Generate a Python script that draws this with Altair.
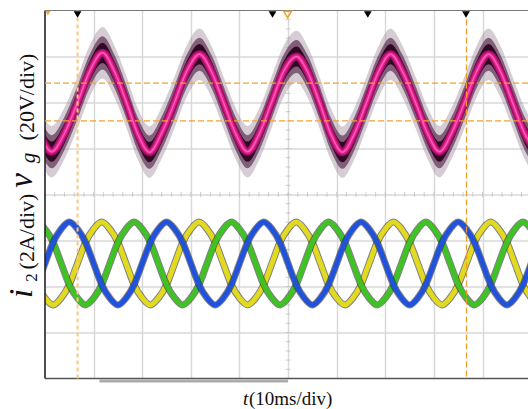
import altair as alt
import pandas as pd

# ---------------- data ----------------
# grid voltage v_g (divisions, 20 V/div), centre trace
vg_t = [-8.54, -6.07, -3.60, -1.13, 1.34, 4.01, 6.69, 9.15, 11.83, 14.30, 16.77, 19.03,
        21.50, 23.97, 26.64, 29.11, 31.78, 34.25, 36.72, 39.19, 41.66, 44.13, 46.59, 49.06,
        51.74, 54.00, 56.47, 58.73, 61.20, 63.67, 66.14, 68.61, 71.08, 73.55, 76.22, 78.69,
        81.15, 83.62, 86.29, 88.76, 91.23, 93.70, 96.17, 98.64, 101.11]
vg_v = [7.05, 6.67, 6.00, 5.33, 4.93, 5.33, 6.00, 6.67, 7.08, 6.67, 6.00, 5.33,
        4.92, 5.33, 6.00, 6.67, 7.05, 6.67, 6.00, 5.33, 4.93, 5.33, 6.00, 6.67,
        7.00, 6.67, 6.00, 5.33, 4.92, 5.33, 6.00, 6.67, 7.05, 6.67, 6.00, 5.33,
        4.93, 5.33, 6.00, 6.67, 7.05, 6.67, 6.00, 5.33, 4.93]

# grid currents i_2 (divisions, 2 A/div)
i_t = [-5.0, -3.33, -1.67, 0.0, 1.67, 3.33, 5.0, 6.67, 8.33, 10.0, 11.67, 13.33,
       15.0, 16.67, 18.33, 20.0, 21.67, 23.33, 25.0, 26.67, 28.33, 30.0, 31.67, 33.33,
       35.0, 36.67, 38.33, 40.0, 41.67, 43.33, 45.0, 46.67, 48.33, 50.0, 51.67, 53.33,
       55.0, 56.67, 58.33, 60.0, 61.67, 63.33, 65.0, 66.67, 68.33, 70.0, 71.67, 73.33,
       75.0, 76.67, 78.33, 80.0, 81.67, 83.33, 85.0, 86.67, 88.33, 90.0, 91.67, 93.33,
       95.0, 96.67, 98.33, 100.0, 101.67, 103.33]
i_blue = [1.60, 1.75, 2.04, 2.50, 2.96, 3.25, 3.40, 3.25, 2.96, 2.50, 2.04, 1.75,
          1.60, 1.75, 2.04, 2.50, 2.96, 3.25, 3.40, 3.25, 2.96, 2.50, 2.04, 1.75,
          1.60, 1.75, 2.04, 2.50, 2.96, 3.25, 3.40, 3.25, 2.96, 2.50, 2.04, 1.75,
          1.60, 1.75, 2.04, 2.50, 2.96, 3.25, 3.40, 3.25, 2.96, 2.50, 2.04, 1.75,
          1.60, 1.75, 2.04, 2.50, 2.96, 3.25, 3.40, 3.25, 2.96, 2.50, 2.04, 1.75,
          1.60, 1.75, 2.04, 2.50, 2.96, 3.25]
i_yellow = [2.96, 2.50, 2.04, 1.75, 1.60, 1.75, 2.04, 2.50, 2.96, 3.25, 3.40, 3.25,
            2.96, 2.50, 2.04, 1.75, 1.60, 1.75, 2.04, 2.50, 2.96, 3.25, 3.40, 3.25,
            2.96, 2.50, 2.04, 1.75, 1.60, 1.75, 2.04, 2.50, 2.96, 3.25, 3.40, 3.25,
            2.96, 2.50, 2.04, 1.75, 1.60, 1.75, 2.04, 2.50, 2.96, 3.25, 3.40, 3.25,
            2.96, 2.50, 2.04, 1.75, 1.60, 1.75, 2.04, 2.50, 2.96, 3.25, 3.40, 3.25,
            2.96, 2.50, 2.04, 1.75, 1.60, 1.75]
i_green = [2.96, 3.25, 3.40, 3.25, 2.96, 2.50, 2.04, 1.75, 1.60, 1.75, 2.04, 2.50,
           2.96, 3.25, 3.40, 3.25, 2.96, 2.50, 2.04, 1.75, 1.60, 1.75, 2.04, 2.50,
           2.96, 3.25, 3.40, 3.25, 2.96, 2.50, 2.04, 1.75, 1.60, 1.75, 2.04, 2.50,
           2.96, 3.25, 3.40, 3.25, 2.96, 2.50, 2.04, 1.75, 1.60, 1.75, 2.04, 2.50,
           2.96, 3.25, 3.40, 3.25, 2.96, 2.50, 2.04, 1.75, 1.60, 1.75, 2.04, 2.50,
           2.96, 3.25, 3.40, 3.25, 2.96, 2.50]

cursor_h = [6.42, 5.60]          # horizontal cursors (div)
cursor_v_pale = [6.7]            # vertical cursor (ms)
cursor_v = [86.7]
marker_t = [6.7, 46.8, 66.4, 86.6]
trigger_t = [49.9]
grid_x = [10, 20, 30, 40, 50, 60, 70, 80, 90]
grid_y = [1, 2, 3, 4, 5, 6, 7]
minor_x = [i * 2 for i in range(51)]
minor_y = [i * 0.2 for i in range(41)]

# ---------------- chart ----------------
W, H = 483, 368
XS = alt.Scale(domain=[0, 99.35], nice=False, zero=False)
YS = alt.Scale(domain=[0, 8], nice=False, zero=False)
AX = alt.Axis(values=grid_x, grid=True, gridColor="#d9d9d9", gridWidth=1.5,
              labels=False, ticks=False, domain=False, title=None)
AY = alt.Axis(values=grid_y, grid=True, gridColor="#d9d9d9", gridWidth=1.5,
              labels=False, ticks=False, domain=False, title=None)


def xe(f="t"):
    return alt.X(f, type="quantitative", scale=XS, axis=AX)


def ye(f):
    return alt.Y(f, type="quantitative", scale=YS, axis=AY)


vdf = pd.DataFrame({"t": vg_t, "v": vg_v})
idf = pd.concat([
    pd.DataFrame({"t": i_t, "i": i_yellow, "ph": "c"}),
    pd.DataFrame({"t": i_t, "i": i_green, "ph": "b"}),
    pd.DataFrame({"t": i_t, "i": i_blue, "ph": "a"}),
])

layers = []

# minor ticks on centre lines
layers.append(alt.Chart(pd.DataFrame({"t": minor_x, "v": [4] * len(minor_x)}))
              .mark_tick(orient="vertical", size=5, thickness=1, color="#bdbdbd")
              .encode(x=xe(), y=ye("v")))
layers.append(alt.Chart(pd.DataFrame({"t": [50] * len(minor_y), "v": minor_y}))
              .mark_tick(orient="horizontal", size=5, thickness=1, color="#bdbdbd")
              .encode(x=xe(), y=ye("v")))

# voltage trace: noise envelope + trace
vbase = alt.Chart(vdf)
for half, col, op in [(0.56, "#a58f9f", 0.45), (0.36, "#5e3052", 0.7),
                      (0.22, "#2a0420", 0.95)]:
    layers.append(vbase.transform_calculate(lo=f"datum.v - {half}", hi=f"datum.v + {half}")
                  .mark_area(color=col, opacity=op, interpolate="monotone", clip=True)
                  .encode(x=xe(), y=ye("lo"), y2="hi:Q"))
layers.append(vbase.mark_line(color="#a30f66", strokeWidth=8, interpolate="monotone", clip=True)
              .encode(x=xe(), y=ye("v")))
layers.append(vbase.mark_line(color="#e0228c", strokeWidth=4.5, interpolate="monotone", clip=True)
              .encode(x=xe(), y=ye("v")))
layers.append(vbase.mark_line(color="#ff58b8", strokeWidth=1.5, interpolate="monotone", clip=True)
              .encode(x=xe(), y=ye("v")))

# currents
cols = {"a": "#2152dc", "b": "#3fc324", "c": "#e2da20"}
for ph in ["c", "b", "a"]:
    d = alt.Chart(idf[idf.ph == ph])
    layers.append(d.mark_line(color="#1c1c1c", strokeWidth=7, opacity=0.55,
                              interpolate="monotone", clip=True)
                  .encode(x=xe(), y=ye("i")))
    layers.append(d.mark_line(color=cols[ph], strokeWidth=5, interpolate="monotone", clip=True)
                  .encode(x=xe(), y=ye("i")))

# borders
layers.append(alt.Chart(pd.DataFrame({"t": [0]})).mark_rule(color="#222222", strokeWidth=1.6)
              .encode(x=xe(), y=alt.value(0), y2=alt.value(H)))
layers.append(alt.Chart(pd.DataFrame({"v": [0]})).mark_rule(color="#555555", strokeWidth=1.6)
              .encode(y=ye("v"), x=alt.value(0), x2=alt.value(W)))
layers.append(alt.Chart(pd.DataFrame({"v": [8]})).mark_rule(color="#777777", strokeWidth=1.2)
              .encode(y=ye("v"), x=alt.value(0), x2=alt.value(W)))
layers.append(alt.Chart(pd.DataFrame({"t": [11.2], "t2": [50.0]}))
              .mark_rule(color="#aaaaaa", strokeWidth=3)
              .encode(x=xe(), x2="t2:Q", y=alt.value(H + 2.5)))

# cursors
layers.append(alt.Chart(pd.DataFrame({"v": cursor_h}))
              .mark_rule(color="#f2a22e", strokeWidth=1.2, strokeDash=[6, 3])
              .encode(y=ye("v"), x=alt.value(0), x2=alt.value(W)))
layers.append(alt.Chart(pd.DataFrame({"t": cursor_v_pale}))
              .mark_rule(color="#ffc680", strokeWidth=2, strokeDash=[4, 3])
              .encode(x=xe(), y=alt.value(0), y2=alt.value(H)))
layers.append(alt.Chart(pd.DataFrame({"t": cursor_v}))
              .mark_rule(color="#f29a26", strokeWidth=1.2, strokeDash=[6, 3])
              .encode(x=xe(), y=alt.value(0), y2=alt.value(H)))

# top markers
layers.append(alt.Chart(pd.DataFrame({"t": marker_t}))
              .mark_point(shape="triangle-down", filled=True, size=60, color="black", opacity=1)
              .encode(x=xe(), y=alt.value(4)))
layers.append(alt.Chart(pd.DataFrame({"t": trigger_t}))
              .mark_point(shape="triangle-down", filled=False, size=60, color="#f2a22e",
                          strokeWidth=1.5, opacity=1)
              .encode(x=xe(), y=alt.value(4)))
layers.append(alt.Chart(pd.DataFrame({"t": [0.6]}))
              .mark_point(shape="triangle-down", filled=True, size=30, color="#f2a22e", opacity=1)
              .encode(x=xe(), y=alt.value(2.5)))

# texts
def txt(s, x, y, size, style="normal", angle=270, align="center"):
    return alt.Chart(pd.DataFrame({"a": [0]})).mark_text(
        text=s, font="Liberation Serif", fontSize=size, fontStyle=style,
        angle=angle, align=align, baseline="alphabetic", color="#111111"
    ).encode(x=alt.value(x), y=alt.value(y))


layers += [
    txt("(20V/div)", -11, 86.5, 22),
    txt("g", -10, 147.5, 21, "italic"),
    txt("v", -13, 170, 33, "italic"),
    txt("(2A/div)", -11, 221, 22),
    txt("2", -8, 267, 17),
    txt("i", -13, 283, 33, "italic"),
    txt("t", 198, 394.5, 19, "italic", 0, "left"),
    txt("(10ms/div)", 204, 394.5, 19, "normal", 0, "left"),
]

chart = alt.layer(*layers).properties(
    width=W, height=H,
    autosize=alt.AutoSizeParams(type="none"),
    padding={"left": 45, "top": 10.5, "right": 0, "bottom": 30.5},
    background="white",
).configure_view(stroke=None)

chart.save("out.html", embed_options={"renderer": "svg", "actions": False})
